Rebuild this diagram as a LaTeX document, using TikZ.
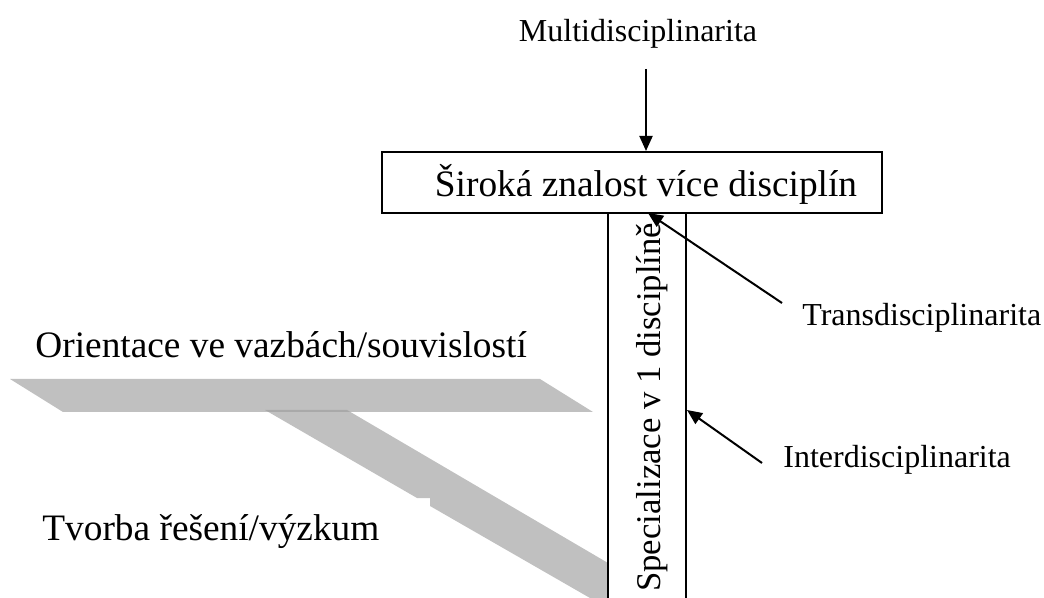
\documentclass[tikz,border=0pt]{standalone}
\usepackage{fontspec}
\setmainfont{Liberation Serif}
\usepackage{xcolor}
\usetikzlibrary{arrows.meta}
\definecolor{bandgray}{HTML}{C0C0C0}
\definecolor{overlapgray}{HTML}{A9A9A9}

\begin{document}
\begin{tikzpicture}[x=0.5pt,y=-0.5pt,
  lbl/.style={inner sep=0pt,font=\fontsize{16}{19}\selectfont},
  biglbl/.style={inner sep=0pt,font=\fontsize{18.67}{22}\selectfont},
  arr/.style={line width=1pt,-{Triangle[length=7.5pt,width=6.5pt]}}]
\useasboundingbox (0,0) rectangle (1044,598);
% grey bands
\fill[bandgray](10,379)--(540,379)--(593,412)--(63,412)--cycle;
\fill[bandgray](265,410)--(347,410)--(608,563)--(608,598)--(590,598)--(430,506)--(430,498)--(417,498)--cycle;
\fill[overlapgray](265,410)--(347,410)--(350.5,412)--(268.5,412)--cycle;
% column
\draw[line width=1pt](608,213)--(608,598) (686,213)--(686,598);
\node[rotate=90,anchor=base west,inner sep=0pt,font=\fontsize{17.33}{20}\selectfont](spec) at (660,592){Specializace v 1 disciplíně};
% box on top
\node[draw,line width=1pt,minimum width=250pt,minimum height=30.5pt,inner sep=0pt](siroka) at (632,182.5){};
\node[biglbl,anchor=base](sirokatxt) at (646,197){Široká znalost více disciplín};
% labels
\node[lbl,anchor=base](multi) at (638,42){Multidisciplinarita};
\node[lbl,anchor=base west](trans) at (802,326){Transdisciplinarita};
\node[lbl,anchor=base west](inter) at (783,467){Interdisciplinarita};
\node[biglbl,anchor=base west](orient) at (35,358){Orientace ve vazbách/souvislostí};
\node[biglbl,anchor=base west](tvorba) at (42,540){Tvorba řešení/výzkum};
% arrows
\coordinate(mtail) at (646,69);
\coordinate(ttail) at (782,303);
\coordinate(ttip) at (648,213);
\coordinate(itail) at (762,463);
\coordinate(itip) at (687,410);
\draw[arr](mtail)--(mtail |- siroka.north);
\draw[arr](ttail)--(ttip);
\draw[arr](itail)--(itip);
\end{tikzpicture}
\end{document}
